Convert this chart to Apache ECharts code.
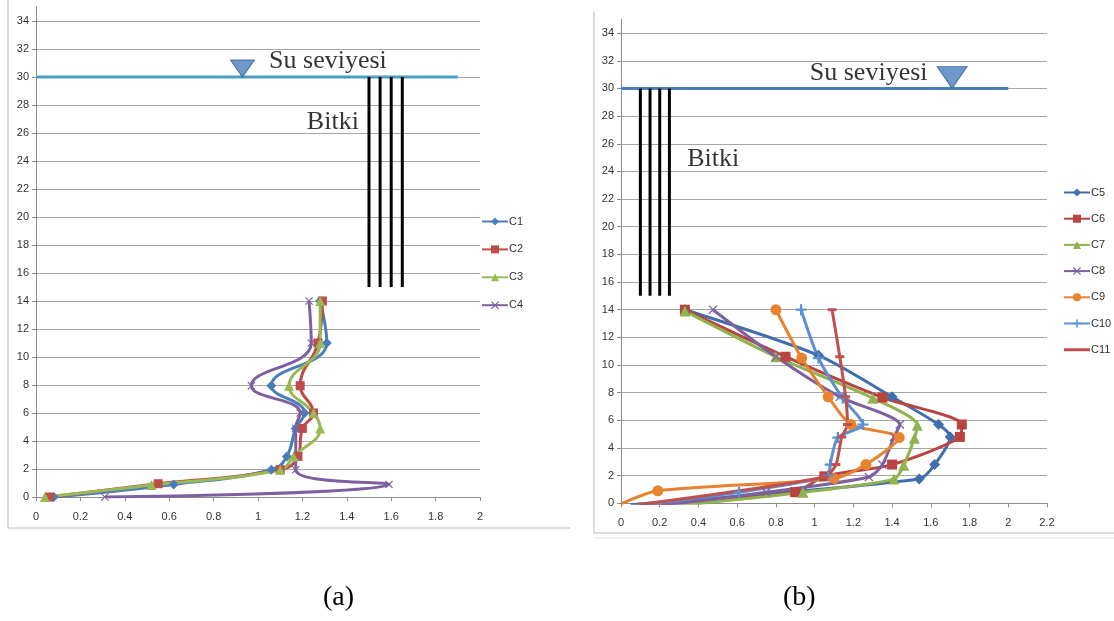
<!DOCTYPE html>
<html><head><meta charset="utf-8">
<script src="https://cdn.jsdelivr.net/npm/echarts@6/dist/echarts.min.js"></script>
<style>html,body{margin:0;padding:0;background:#fff}#c{width:1114px;height:621px}</style>
</head><body><div id="c"></div>
<script>
// ---- tick labels ----
const yTicks = [0,2,4,6,8,10,12,14,16,18,20,22,24,26,28,30,32,34];
const yMax = 35;
const xMaxA = 2, xMaxB = 2.2, xStep = 0.2;

// ---- chart (a) series: [velocity, depth] ----
const namesA = ['C1','C2','C3','C4'];
const c1 = [[0.08,0],[0.62,0.9],[1.06,1.95],[1.13,2.9],[1.17,4.9],[1.21,6],[1.06,7.95],[1.31,11],[1.28,14]];
const c2 = [[0.06,0],[0.55,0.95],[1.10,1.95],[1.18,2.9],[1.20,4.9],[1.25,6],[1.19,7.95],[1.27,11],[1.29,14]];
const c3 = [[0.04,0],[0.52,0.85],[1.10,1.95],[1.16,2.9],[1.28,4.9],[1.25,6],[1.14,7.95],[1.28,11],[1.28,14]];
const c4 = [[0.31,0],[1.59,0.9],[1.17,1.95],[1.17,4.9],[1.19,6],[0.97,7.95],[1.24,11],[1.23,14]];
const waterA = [[0,30],[1.9,30]];
const triA = [0.93,30];
const plantXA = [1.5,1.55,1.6,1.65];
const labelSuA = [1.05,31.1];
const labelBitkiA = [1.22,26.8];

// ---- chart (b) series ----
const namesB = ['C5','C6','C7','C8','C9','C10','C11'];
const c5 = [[0.05,-0.1],[1.54,1.75],[1.62,2.8],[1.70,4.8],[1.64,5.7],[1.40,7.7],[1.02,10.7],[0.33,14]];
const c6 = [[0.10,-0.15],[0.90,0.8],[1.05,1.95],[1.40,2.8],[1.75,4.8],[1.76,5.7],[1.35,7.65],[0.85,10.6],[0.33,14]];
const c7 = [[0.31,-0.15],[0.94,0.8],[1.41,1.75],[1.46,2.75],[1.515,4.7],[1.53,5.65],[1.30,7.6],[0.80,10.6],[0.33,13.9]];
const c8 = [[0.21,-0.15],[0.75,0.8],[1.28,1.9],[1.35,2.8],[1.41,4.8],[1.44,5.7],[1.13,7.7],[0.80,10.6],[0.475,14]];
const c9 = [[0.0,-0.05],[0.19,0.9],[1.10,1.8],[1.265,2.8],[1.437,4.75],[1.187,5.7],[1.07,7.7],[0.933,10.5],[0.80,14]];
const c10 = [[0.11,-0.1],[0.61,0.8],[1.07,2.0],[1.08,2.8],[1.12,4.75],[1.25,5.7],[1.145,7.6],[1.02,10.5],[0.93,14]];
const c11 = [[0.09,-0.1],[1.05,1.9],[1.11,2.8],[1.14,4.8],[1.17,5.7],[1.16,7.7],[1.13,10.6],[1.09,14]];
const waterB = [[0,30],[2.0,30]];
const triB = [1.71,30];
const plantXB = [0.1,0.15,0.2,0.25];
const labelSuB = [0.975,31.1];
const labelBitkiB = [0.342,24.9];
const plantTop = 30, plantBottom = 15;

// ---- styles ----
const SYM_X = 'path://M0,1L1,0L5,4L9,0L10,1L6,5L10,9L9,10L5,6L1,10L0,9L4,5Z';
const SYM_PLUS = 'path://M4,0H6V4H10V6H6V10H4V6H0V4H4Z';
const SYM_DASH = 'path://M0,0H10V3H0Z';
const ICON_LINE = 'path://M0,0H0.01V10H0ZM0,3.5H26V6.5H0Z';
const serif = '"Liberation Serif","DejaVu Serif",serif';
const sans = '"Liberation Sans",Arial,sans-serif';

function yAx(gi){
  return {type:'value', gridIndex:gi, min:0, max:yMax, interval:2,
    axisLine:{show:true,lineStyle:{color:'#8c8c8c',width:1}},
    axisTick:{show:true,length:4,lineStyle:{color:'#8c8c8c'},customValues:yTicks},
    axisLabel:{color:'#333',fontSize:11,fontFamily:sans,margin:7,customValues:yTicks},
    splitLine:{show:true,lineStyle:{color:'#a6a6a6',width:1}}};
}
function xAx(gi,max){
  return {type:'value', gridIndex:gi, min:0, max:max, interval:xStep,
    axisLine:{show:true,onZero:false,lineStyle:{color:'#8c8c8c',width:1}},
    axisTick:{show:true,length:4,lineStyle:{color:'#8c8c8c'}},
    axisLabel:{color:'#333',fontSize:11,fontFamily:sans,margin:14},
    splitLine:{show:false}};
}
function dataLine(name,data,ai,color,symbol,size,smooth,width){
  return {name:name,type:'line',xAxisIndex:ai,yAxisIndex:ai,data:data,smooth:smooth,
    symbol:symbol,symbolSize:size,showAllSymbol:true,
    lineStyle:{color:color,width:width},itemStyle:{color:color},z:5};
}
function plainLine(data,ai,color,width,z){
  return {type:'line',xAxisIndex:ai,yAxisIndex:ai,data:data,symbol:'none',silent:true,
    lineStyle:{color:color,width:width},itemStyle:{color:color},z:z};
}
function textMark(pos,txt,ai,size){
  return {type:'scatter',xAxisIndex:ai,yAxisIndex:ai,data:[pos],symbolSize:0,silent:true,
    label:{show:true,position:'right',distance:0,formatter:txt,fontFamily:serif,fontSize:size,color:'#000'},z:6};
}
function triangle(pos,ai,w,h,color){
  return {type:'scatter',xAxisIndex:ai,yAxisIndex:ai,data:[pos],symbol:'triangle',symbolRotate:180,
    symbolSize:[w,h],symbolOffset:[0,-h/2],silent:true,
    itemStyle:{color:color,borderColor:'#35639b',borderWidth:1},z:7};
}

const series = [];
// (a)
series.push(plainLine(waterA,0,'#4a9fbc',3,3));
series.push(triangle(triA,0,24,17,'#4a7ebb'));
plantXA.forEach(x=>series.push(plainLine([[x,plantTop],[x,plantBottom]],0,'#000',3,4)));
series.push(textMark(labelSuA,'Su seviyesi',0,26));
series.push(textMark(labelBitkiA,'Bitki',0,26));
const colA = ['#4a7ebb','#be4b48','#98b954','#7d60a0'];
series.push(dataLine('C1',c1,0,colA[0],'diamond',10,0.45,3));
series.push(dataLine('C2',c2,0,colA[1],'rect',9,0.45,3));
series.push(dataLine('C3',c3,0,colA[2],'triangle',10,0.45,3));
series.push(dataLine('C4',c4,0,colA[3],SYM_X,8,0.45,3));
// (b)
series.push(plainLine(waterB,1,'#4a7ebb',3,3));
series.push(triangle(triB,1,30,22,'#4a7ebb'));
plantXB.forEach(x=>series.push(plainLine([[x,plantTop],[x,plantBottom]],1,'#000',3,4)));
series.push(textMark(labelSuB,'Su seviyesi',1,26));
series.push(textMark(labelBitkiB,'Bitki',1,26));
series.push(dataLine('C5',c5,1,'#3f6fad','diamond',11,0.25,3));
series.push(dataLine('C6',c6,1,'#b8433f','rect',10,0.25,3));
series.push(dataLine('C7',c7,1,'#8fb34e','triangle',11,0.25,3));
series.push(dataLine('C8',c8,1,'#7d60a0',SYM_X,9,0.25,3));
series.push(dataLine('C9',c9,1,'#e8822e','circle',11,0.25,3));
series.push(dataLine('C10',c10,1,'#5b90d4',SYM_PLUS,11,0.25,3));
series.push(dataLine('C11',c11,1,'#c0504d',SYM_DASH,[9,3],0.25,3));

const legendB = namesB.map(n => n==='C11' ? {name:n, icon:ICON_LINE} : {name:n});

const chart = echarts.init(document.getElementById('c'),null,{renderer:'canvas'});
chart.setOption({
  animation:false,
  backgroundColor:'#fff',
  grid:[
    {left:36,top:7,width:444,height:490},
    {left:621,top:19.3,width:426,height:484}
  ],
  xAxis:[xAx(0,xMaxA),xAx(1,xMaxB)],
  yAxis:[yAx(0),yAx(1)],
  legend:[
    {data:namesA,orient:'vertical',left:481,top:216,padding:0,itemWidth:26,itemHeight:10,itemGap:16.9,
      textStyle:{fontSize:11,fontFamily:sans,color:'#333',padding:[0,0,0,-4]}},
    {data:legendB,orient:'vertical',left:1063,top:187,padding:0,itemWidth:26,itemHeight:10,itemGap:15.2,
      textStyle:{fontSize:11,fontFamily:sans,color:'#333',padding:[0,0,0,-4]}}
  ],
  graphic:[
    {type:'line',shape:{x1:8,y1:0,x2:8,y2:528},style:{stroke:'#b5b5b5',lineWidth:1},silent:true},
    {type:'line',shape:{x1:8,y1:528,x2:570,y2:528},style:{stroke:'#b5b5b5',lineWidth:1},silent:true},
    {type:'line',shape:{x1:594,y1:12,x2:594,y2:533},style:{stroke:'#b5b5b5',lineWidth:1},silent:true},
    {type:'line',shape:{x1:594,y1:533,x2:1114,y2:533},style:{stroke:'#b5b5b5',lineWidth:1},silent:true},
    {type:'line',shape:{x1:594,y1:538,x2:1114,y2:538},style:{stroke:'#dfe3ee',lineWidth:1},silent:true},
    {type:'text',left:323,top:584,style:{text:'(a)',font:'28px '+serif,fill:'#000'}},
    {type:'text',left:783,top:584,style:{text:'(b)',font:'28px '+serif,fill:'#000'}}
  ],
  series:series
});
</script></body></html>
